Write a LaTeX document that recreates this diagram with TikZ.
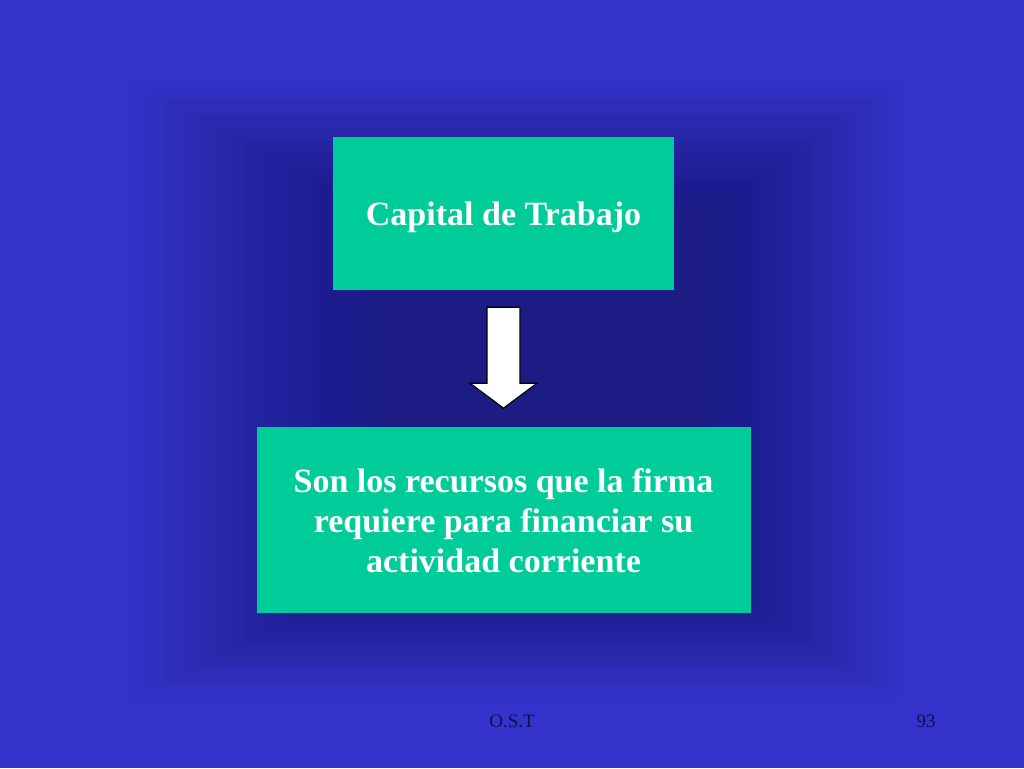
\documentclass[tikz,border=0pt]{standalone}
\usepackage{fontspec}
\setmainfont{Liberation Serif}
\usetikzlibrary{positioning,calc}
\definecolor{slideblue}{HTML}{3333CC}
\definecolor{shadownavy}{HTML}{1C1C60}
\definecolor{boxgreen}{HTML}{00CC99}
\definecolor{footnavy}{HTML}{10104A}

\begin{document}
\begin{tikzpicture}[
  x=1pt, y=-1pt,
  box/.style={fill=boxgreen, text=white, font=\fontsize{34}{40}\selectfont\bfseries, align=center, inner sep=0pt},
  arrowbody/.style={fill=white, draw=black, line width=1.2pt, line join=miter},
  footer/.style={font=\fontsize{19}{19}\selectfont, text=footnavy, anchor=base}
]
  \useasboundingbox (0,0) rectangle (1024,768);
  \fill[slideblue] (0,0) rectangle (1024,768);
  % soft shadow behind the boxes
  \foreach \i in {0,...,29}
    \fill[shadownavy, fill opacity=0.026] (130+\i*8.7, 80+\i*4.7) rectangle (900-\i*6.7, 700-\i*4.3);

  \node (capital) [box, text depth=0pt, minimum width=341pt, minimum height=153pt] at (503.5,213.5) {Capital de Trabajo};
  \node (recursos) [box, below=137pt of capital, minimum width=494pt, minimum height=186pt] {
    Son los recursos que la firma\\
    requiere para financiar su\\
    actividad corriente
  };

  \coordinate (tip) at ($(recursos.north)+(0,-19)$);
  \draw[arrowbody] ($(capital.south)+(-16.5,17)$) -- ($(capital.south)+(16.5,17)$)
    -- ($(tip)+(16.5,-25)$) -- ($(tip)+(33.5,-25)$) -- (tip)
    -- ($(tip)+(-33.5,-25)$) -- ($(tip)+(-16.5,-25)$) -- cycle;

  \node (ost) [footer] at (512,727) {O.S.T};
  \node (page) [footer] at (926,727) {93};
\end{tikzpicture}
\end{document}
